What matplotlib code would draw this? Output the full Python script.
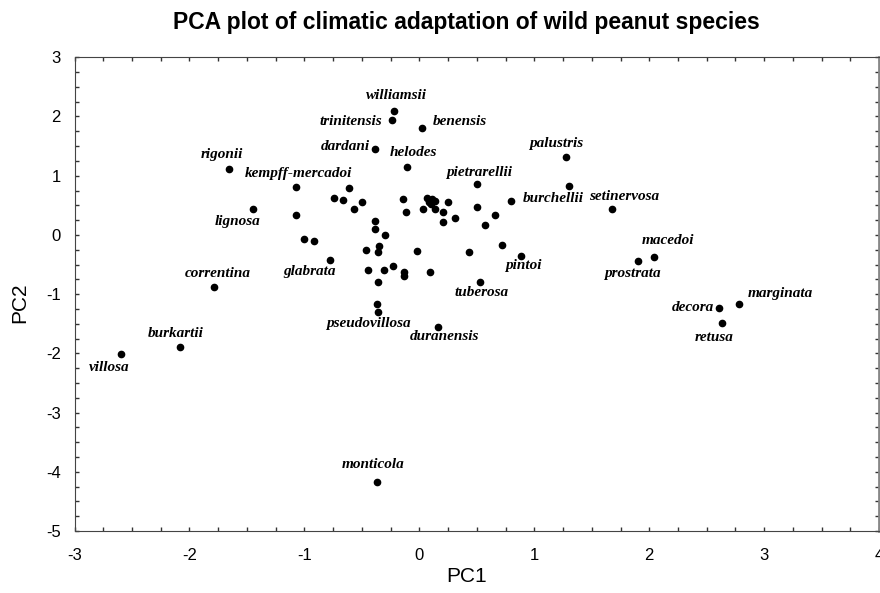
import matplotlib
matplotlib.use("Agg")
import matplotlib.pyplot as plt
from matplotlib.ticker import MultipleLocator

plt.rcParams["axes.unicode_minus"] = False

# ---- Data ----
names = ["williamsii", "trinitensis", "benensis", "dardani", "helodes",
         "palustris", "pietrarellii", "burchellii", "setinervosa",
         "kempff-mercadoi", "rigonii", "lignosa", "glabrata", "correntina",
         "burkartii", "villosa", "pintoi", "tuberosa", "pseudovillosa",
         "duranensis", "macedoi", "prostrata", "marginata", "decora",
         "retusa", "monticola"]
pc1 = [-0.22, -0.24, 0.02, -0.39, -0.11, 1.28, 0.50, 0.80, 1.68,
       -1.07, -1.66, -1.45, -0.78, -1.79, -2.08, -2.60, 0.88, 0.53, -0.36,
       0.16, 2.04, 1.90, 2.78, 2.61, 2.63, -0.37]
pc2 = [2.10, 1.94, 1.81, 1.45, 1.15, 1.31, 0.86, 0.57, 0.44,
       0.81, 1.11, 0.43, -0.43, -0.88, -1.90, -2.01, -0.35, -0.79, -1.31,
       -1.55, -0.38, -0.44, -1.17, -1.23, -1.48, -4.17]

# points drawn without a name
other_pc1 = [1.30, -0.61, -0.74, -0.66, -0.50, -0.57, -0.14, -0.12, 0.07, 0.11,
             0.14, 0.10, 0.08, 0.25, 0.03, 0.14, 0.21, 0.21, 0.31, 0.50, 0.66,
             0.57, -1.07, -0.39, -0.39, -0.30, -1.00, -0.92, -0.35, -0.46,
             -0.36, -0.02, 0.43, 0.72, -0.45, -0.31, -0.23, -0.13, -0.13, 0.09,
             -0.36, -0.37]
other_pc2 = [0.83, 0.80, 0.63, 0.59, 0.56, 0.44, 0.60, 0.38, 0.62, 0.60,
             0.57, 0.52, 0.55, 0.56, 0.43, 0.43, 0.38, 0.21, 0.28, 0.47, 0.33,
             0.16, 0.33, 0.23, 0.10, 0.005, -0.07, -0.11, -0.19, -0.26,
             -0.29, -0.28, -0.29, -0.17, -0.60, -0.60, -0.52, -0.625, -0.69, -0.62,
             -0.79, -1.16]

# label placement: (dx px, dy px, horizontal alignment)
label_pos = {
    "williamsii": (2, 15, "center"), "trinitensis": (-10, -1, "right"),
    "benensis": (11, 6, "left"), "dardani": (-5, 3, "right"),
    "helodes": (6.5, 14, "center"), "palustris": (-10.5, 14, "center"),
    "pietrarellii": (2.5, 11, "center"), "burchellii": (11.5, 3, "left"),
    "setinervosa": (11.5, 12.7, "center"), "kempff-mercadoi": (2.5, 13.5, "center"),
    "rigonii": (-7, 15, "center"), "lignosa": (-15, -12, "center"),
    "glabrata": (-20, -10.7, "center"), "correntina": (3.8, 13.7, "center"),
    "burkartii": (-4.5, 14, "center"), "villosa": (-11.5, -13.3, "center"),
    "pintoi": (3.3, -10.3, "center"), "tuberosa": (1.3, -11, "center"),
    "pseudovillosa": (-9.4, -10.6, "center"), "duranensis": (6.4, -9.7, "center"),
    "macedoi": (14, 17, "center"), "prostrata": (-5.7, -13, "center"),
    "marginata": (8.7, 10.7, "left"), "decora": (-5.3, 0, "right"),
    "retusa": (-7.3, -15, "center"), "monticola": (-4, 17, "center"),
}

# ---- Plot ----
fig = plt.figure(figsize=(8.8, 5.93), dpi=100)
ax = fig.add_axes([0.0847, 0.1046, 0.9143, 0.7988])

ax.plot(other_pc1, other_pc2, "o", color="black", markersize=4.5, linestyle="none")
ax.plot(pc1, pc2, "o", color="black", markersize=4.5, linestyle="none")

for name, x, y in zip(names, pc1, pc2):
    dx, dy, ha = label_pos[name]
    ax.annotate(name, (x, y), xytext=(dx, dy), textcoords="offset pixels",
                ha=ha, va="center", fontsize=11, fontweight="bold",
                fontstyle="italic", family="Liberation Serif")

ax.set_xlim(-3, 4)
ax.set_ylim(-5, 3)
ax.xaxis.set_major_locator(MultipleLocator(1))
ax.xaxis.set_minor_locator(MultipleLocator(0.25))
ax.yaxis.set_major_locator(MultipleLocator(1))
ax.yaxis.set_minor_locator(MultipleLocator(0.25))
ax.tick_params(which="both", direction="in", top=True, right=True,
               length=3, width=1, color="#333333")
ax.tick_params(axis="x", pad=12)
ax.tick_params(axis="y", pad=10)
for lab in ax.get_xticklabels() + ax.get_yticklabels():
    lab.set_family("Liberation Sans")
    lab.set_fontsize(12)
for side in ["left", "bottom", "top"]:
    ax.spines[side].set_color("#444444")
ax.spines["right"].set_color("#888888")
ax.spines["right"].set_linewidth(2)

fig.text(0.53, 0.027, "PC1", ha="center", va="center", fontsize=15,
         family="Liberation Sans")
fig.text(0.023, 0.49, "PC2", ha="center", va="center", fontsize=15,
         rotation=90, family="Liberation Sans")
fig.text(0.53, 0.962, "PCA plot of climatic adaptation of wild peanut species",
         ha="center", va="center", fontsize=16.5, fontweight="bold",
         family="Liberation Sans")

fig.savefig("out.png", dpi=100)
